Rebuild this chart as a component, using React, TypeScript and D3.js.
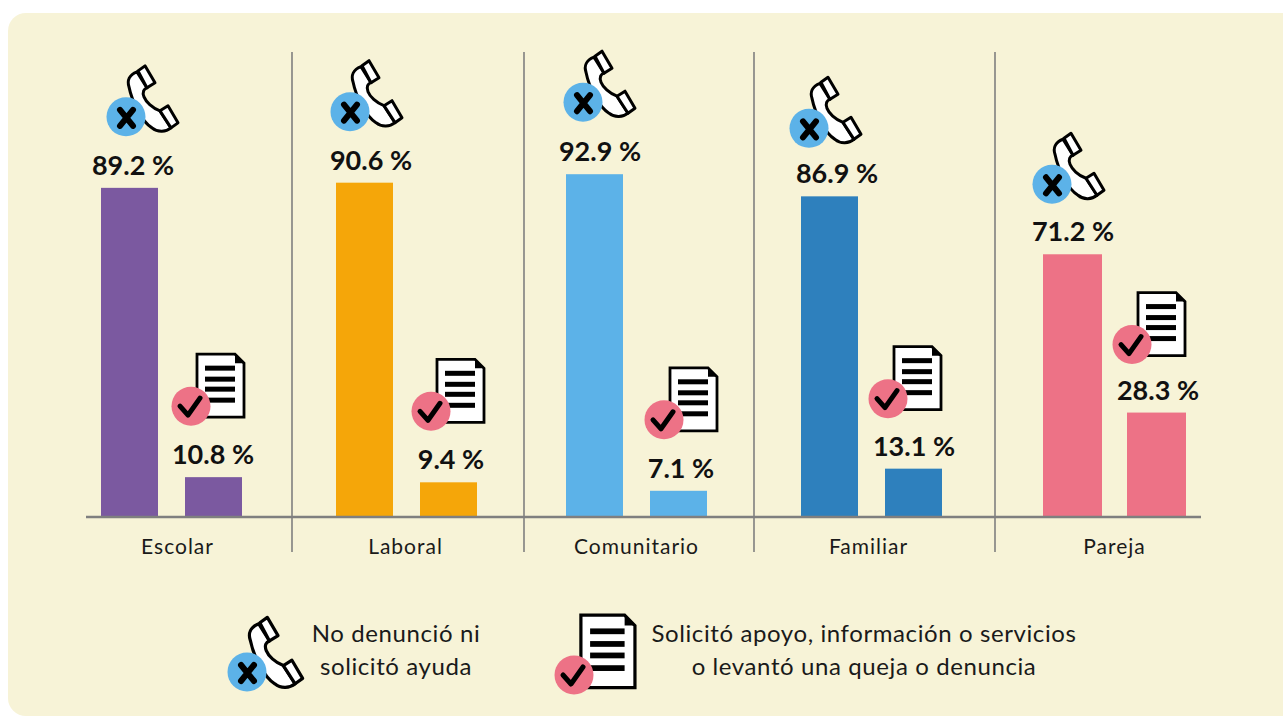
import React, { useEffect, useRef } from "react";
import * as d3 from "d3";

const categories = ["Escolar", "Laboral", "Comunitario", "Familiar", "Pareja"];
const noReport = [89.2, 90.6, 92.9, 86.9, 71.2];
const soughtHelp = [10.8, 9.4, 7.1, 13.1, 28.3];
const colors = ["#7B59A0", "#F5A609", "#5CB2E8", "#2E80BD", "#ED7286"];
const legendNoReport = ["No denunció ni", "solicitó ayuda"];
const legendHelp = [
  "Solicitó apoyo, información o servicios",
  "o levantó una queja o denuncia",
];

// the groups in the original are not evenly spaced
const groupLeft = [101, 336, 566, 801, 1043];
const barWidth = [57, 57, 57, 57, 59];
const labelCenter = [177, 405, 636, 868, 1114];
const separators = [292, 524, 754, 995];
const phoneDx = [25, 14, 17, 8, 9];
const phoneDy = [-71, -71, -72, -68, -70];
const docDx = [6, 11, 14, 3, 5];
const docDy = [-71, -71, -71, -70, -68];
const labelDx1 = [3.5, 6.5, 5.5, 7.5, 1.5];
const labelDx2 = [-0.5, 2.5, 2.5, 0.5, 2.5];

const FONT = "Lato, sans-serif";

function phoneIcon(g: any, x: number, y: number, k: number) {
  const root = g.append("g").attr("transform", `translate(${x},${y})`);
  const p = root.append("g").attr("transform", `scale(${k})`);
  [
    "M11,-45 C3,-42 1,-36 3,-30 C6,-15 16,5 26,11 C32,16 40,15 45,11 L34,-6 C26,-9 20,-15 18,-20 C16,-25 18,-28 21,-29 Z",
    "M12,-46 L19,-51 L29,-34 L21,-29 Z",
    "M34,-6 L42,-11 L52,6 L45,11 Z",
  ].forEach((d) =>
    p.append("path")
      .attr("d", d)
      .attr("fill", "#fff")
      .attr("stroke", "#000")
      .attr("stroke-width", 3)
      .attr("stroke-linejoin", "round")
  );
  root.append("circle").attr("r", 19.5).attr("fill", "#5CB2E8");
  root.append("path")
    .attr("d", "M-6,-7 L7,9 M7,-7 L-6,9")
    .attr("stroke", "#000")
    .attr("stroke-width", 6)
    .attr("stroke-linecap", "round")
    .attr("fill", "none");
}

function docIcon(g: any, x: number, y: number, k: number) {
  const root = g.append("g").attr("transform", `translate(${x},${y})`);
  const p = root.append("g").attr("transform", `scale(${k})`);
  p.append("path")
    .attr("d", "M6,-52 L44,-52 L53,-43 L53,11 L6,11 Z")
    .attr("fill", "#fff")
    .attr("stroke", "#000")
    .attr("stroke-width", 2.8);
  p.append("path").attr("d", "M44,-52 L53,-43 L44,-43 Z").attr("fill", "#000");
  [-38, -27, -17, -6].forEach((ly) =>
    p.append("rect")
      .attr("x", 14)
      .attr("y", ly - 2.5)
      .attr("width", 30)
      .attr("height", 5)
      .attr("fill", "#000")
  );
  root.append("circle").attr("r", 19.5).attr("fill", "#ED7286");
  root.append("path")
    .attr("d", "M-11,0 L-3,9 L9,-8")
    .attr("stroke", "#000")
    .attr("stroke-width", 5)
    .attr("stroke-linecap", "round")
    .attr("stroke-linejoin", "round")
    .attr("fill", "none");
}

export default function App() {
  const ref = useRef<SVGSVGElement>(null);

  useEffect(() => {
    const width = 1283;
    const height = 717;
    const svg = d3.select(ref.current).attr("width", width).attr("height", height);
    svg.selectAll("*").remove();

    // panel
    svg.append("rect")
      .attr("x", 8)
      .attr("y", 13)
      .attr("width", 1300)
      .attr("height", 703)
      .attr("rx", 18)
      .attr("fill", "#F7F3D7");

    const y = d3.scaleLinear().domain([0, 100]).range([517, 148]);
    const xGroup = d3.scaleOrdinal<string, number>().domain(categories).range(groupLeft);
    const xLabel = d3.scaleOrdinal<string, number>().domain(categories).range(labelCenter);
    const step = 84;

    // separators
    svg.selectAll(".sep")
      .data(separators)
      .join("line")
      .attr("x1", (d) => d)
      .attr("x2", (d) => d)
      .attr("y1", 52)
      .attr("y2", 552)
      .attr("stroke", "#7f7f7f")
      .attr("stroke-width", 1.6);

    // bars
    svg.selectAll(".bar1")
      .data(categories)
      .join("rect")
      .attr("x", (d) => xGroup(d))
      .attr("y", (d, i) => y(noReport[i]))
      .attr("width", (d, i) => barWidth[i])
      .attr("height", (d, i) => y(0) - y(noReport[i]))
      .attr("fill", (d, i) => colors[i]);

    svg.selectAll(".bar2")
      .data(categories)
      .join("rect")
      .attr("x", (d) => xGroup(d) + step)
      .attr("y", (d, i) => y(soughtHelp[i]))
      .attr("width", (d, i) => barWidth[i])
      .attr("height", (d, i) => y(0) - y(soughtHelp[i]))
      .attr("fill", (d, i) => colors[i]);

    // value labels
    const valueLabel = (vals: number[], dx: number[], off: number, cls: string) =>
      svg.selectAll("." + cls)
        .data(categories)
        .join("text")
        .attr("class", cls)
        .attr("x", (d, i) => xGroup(d) + off + 28.5 + dx[i])
        .attr("y", (d, i) => y(vals[i]) - 13)
        .attr("text-anchor", "middle")
        .attr("font-family", FONT)
        .attr("font-size", 27)
        .attr("font-weight", 700)
        .attr("fill", "#111")
        .text((d, i) => `${vals[i]} %`);
    valueLabel(noReport, labelDx1, 0, "v1");
    valueLabel(soughtHelp, labelDx2, step, "v2");

    // icons
    categories.forEach((c, i) => {
      phoneIcon(svg, xGroup(c) + phoneDx[i], y(noReport[i]) + phoneDy[i], 1);
      docIcon(svg, xGroup(c) + step + docDx[i], y(soughtHelp[i]) + docDy[i], 1);
    });

    // baseline + category labels
    const axis = svg.append("g")
      .attr("transform", "translate(0,517)")
      .call(d3.axisBottom(xLabel).tickSize(0));
    axis.select(".domain").remove();
    axis.selectAll("text")
      .attr("y", 37)
      .attr("dy", 0)
      .attr("font-family", FONT)
      .attr("font-size", 21)
      .attr("letter-spacing", 1)
      .attr("fill", "#1a1a1a");
    svg.append("line")
      .attr("x1", 86)
      .attr("x2", 1201)
      .attr("y1", 517)
      .attr("y2", 517)
      .attr("stroke", "#7f7f7f")
      .attr("stroke-width", 2.4);

    // legend
    phoneIcon(svg, 247, 672, 1.07);
    docIcon(svg, 574, 675, 1.15);
    const legendText = (lines: string[], cx: number) =>
      svg.selectAll(null)
        .data(lines)
        .join("text")
        .attr("x", cx)
        .attr("y", (d, i) => 642 + i * 33)
        .attr("text-anchor", "middle")
        .attr("font-family", FONT)
        .attr("font-size", 24)
        .attr("letter-spacing", 0.6)
        .attr("fill", "#1a1a1a")
        .text((d) => d);
    legendText(legendNoReport, 396);
    legendText(legendHelp, 864);
  }, []);

  return <svg ref={ref} style={{ position: "absolute", left: 0, top: 0 }} />;
}
